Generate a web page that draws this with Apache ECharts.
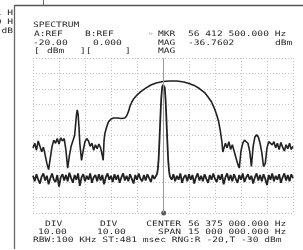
<!DOCTYPE html>
<html><head><meta charset="utf-8">
<script src="https://cdn.jsdelivr.net/npm/echarts@6/dist/echarts.min.js"></script>
<style>html,body{margin:0;padding:0;background:#fff}#c{width:303px;height:250px}</style>
</head><body><div id="c"></div>
<script>
// Frequency offset from center (MHz), amplitude (dBm)
const centerMHz = 56.375;
const spanMHz = 15;
const refLevel = -20;
const dbPerDiv = 10;

// Trace A: filter response (broad passband)
const traceA = [
 [-7.5,-78],[-7.4,-75],[-7.3,-79.5],[-7.2,-73.5],[-7.1,-77],[-7.0,-80.5],[-6.9,-77.5],[-6.8,-82.5],[-6.7,-88],[-6.6,-92],
 [-6.5,-84.5],[-6.4,-77],[-6.3,-73],[-6.2,-75],[-6.1,-72],[-6.0,-75.5],[-5.9,-71.5],[-5.8,-73.5],[-5.7,-72],[-5.6,-79.5],
 [-5.5,-91],[-5.4,-83],[-5.3,-77],[-5.2,-73.5],[-5.1,-70],[-5.05,-64],[-5.0,-57.5],[-4.95,-53.5],[-4.9,-56],[-4.85,-64],
 [-4.8,-75],[-4.7,-86],[-4.6,-79.5],[-4.5,-74],[-4.4,-72],[-4.3,-73.5],[-4.2,-77],[-4.1,-75],[-4.0,-79.5],[-3.9,-76],
 [-3.8,-78.5],[-3.7,-75.5],[-3.6,-78],[-3.5,-83],[-3.45,-86],[-3.4,-73],[-3.35,-68.5],[-3.25,-64.5],[-3.15,-61.3],[-3.0,-59.4],
 [-2.85,-58.7],[-2.6,-58.7],[-2.4,-59],[-2.2,-58.7],[-2.1,-57.4],[-2.0,-54.8],[-1.9,-51],[-1.8,-48.4],[-1.7,-46.5],[-1.5,-43.9],
 [-1.3,-41.9],[-1.0,-39.4],[-0.7,-37.4],[-0.4,-36.1],[0,-35.2],[0.4,-34.8],[0.8,-34.8],[1.2,-35.5],[1.5,-36.5],[1.8,-37.7],
 [2.1,-39.7],[2.4,-42.3],[2.6,-45.2],[2.8,-48.4],[3.0,-53.5],[3.1,-56.8],[3.2,-60.6],[3.3,-66.5],[3.4,-74.2],[3.45,-80.6],
 [3.5,-80],[3.6,-75],[3.7,-78],[3.8,-74],[3.9,-79],[4.0,-76],[4.1,-80],[4.2,-84],[4.3,-88],[4.4,-91],
 [4.5,-80],[4.6,-75],[4.7,-73],[4.8,-72],[4.9,-75],[5.0,-80],[5.1,-90],[5.2,-77],[5.3,-71],[5.4,-69.5],
 [5.5,-71],[5.6,-75],[5.7,-81],[5.8,-90],[5.9,-88],[6.0,-78],[6.1,-74],[6.2,-73],[6.3,-76],[6.4,-74],
 [6.5,-78],[6.6,-75],[6.7,-79],[6.8,-74.5],[6.9,-77.5],[7.0,-80],[7.1,-76],[7.2,-78.5],[7.3,-75],[7.4,-79],[7.5,-77]
];

// Trace B: single carrier with noise floor
const traceB = [
 [-7.5,-96],[-7.4,-99.5],[-7.3,-95],[-7.2,-98.5],[-7.1,-101],[-7.0,-96.5],[-6.9,-94.5],[-6.8,-99],[-6.7,-96],[-6.6,-101.5],
 [-6.5,-97.5],[-6.4,-94.5],[-6.3,-98.5],[-6.2,-100],[-6.1,-95.5],[-6.0,-103],[-5.9,-97],[-5.8,-95],[-5.7,-99],[-5.6,-95.5],
 [-5.5,-99.5],[-5.4,-94],[-5.3,-97.5],[-5.2,-100.5],[-5.1,-95.5],[-5.0,-98.5],[-4.9,-94.5],[-4.8,-102.5],[-4.7,-97],[-4.6,-95],
 [-4.5,-99.5],[-4.4,-96],[-4.3,-98.5],[-4.2,-94.5],[-4.1,-100.5],[-4.0,-97],[-3.9,-95.5],[-3.8,-99.5],[-3.7,-95],[-3.6,-99],
 [-3.5,-95.5],[-3.4,-101.5],[-3.3,-97],[-3.2,-94.5],[-3.1,-98.5],[-3.0,-96],[-2.9,-100],[-2.8,-95],[-2.7,-98.5],[-2.6,-95.5],
 [-2.5,-100.5],[-2.4,-97],[-2.3,-94.5],[-2.2,-99],[-2.1,-96],[-2.0,-99.5],[-1.9,-95],[-1.8,-98],[-1.7,-101],[-1.6,-95.5],
 [-1.5,-98.5],[-1.4,-94.5],[-1.3,-98],[-1.2,-99.5],[-1.1,-95.5],[-1.0,-99],[-0.9,-95],[-0.8,-97.5],[-0.7,-100],[-0.6,-95.5],
 [-0.5,-98],[-0.4,-97],[-0.35,-95],[-0.3,-92],[-0.25,-85],[-0.2,-72],[-0.15,-58],[-0.1,-46],[-0.05,-39],[0,-37.2],
 [0.04,-36.8],[0.1,-39],[0.15,-47],[0.2,-60],[0.25,-74],[0.3,-86],[0.35,-93],[0.4,-96.5],
 [0.5,-98.5],[0.6,-95],[0.7,-99.5],[0.8,-96],[0.9,-98.5],[1.0,-94.5],[1.1,-100.5],[1.2,-97],[1.3,-95.5],[1.4,-99.5],
 [1.5,-95],[1.6,-98.5],[1.7,-95.5],[1.8,-101],[1.9,-97],[2.0,-94.5],[2.1,-99],[2.2,-96],[2.3,-99.5],[2.4,-95],
 [2.5,-98],[2.6,-100.5],[2.7,-95.5],[2.8,-98.5],[2.9,-94.5],[3.0,-98],[3.1,-100],[3.2,-95.5],[3.3,-98.5],[3.4,-95],
 [3.5,-101.5],[3.6,-97],[3.7,-94.5],[3.8,-99],[3.9,-95.5],[4.0,-99.5],[4.1,-95],[4.2,-98],[4.3,-100.5],[4.4,-95.5],
 [4.5,-98.5],[4.6,-94.5],[4.7,-100],[4.8,-97],[4.9,-95],[5.0,-98.5],[5.1,-96],[5.2,-101],[5.3,-97],[5.4,-94.5],
 [5.5,-99],[5.6,-95.5],[5.7,-99.5],[5.8,-95],[5.9,-98],[6.0,-102],[6.1,-95.5],[6.2,-98.5],[6.3,-94.5],[6.4,-99.5],
 [6.5,-96],[6.6,-98.5],[6.7,-95],[6.8,-100.5],[6.9,-97],[7.0,-94.5],[7.1,-99],[7.2,-95.5],[7.3,-99.5],[7.4,-95],[7.5,-97.5]
];

const markerMHz = [0.04];

const headerTexts = ["SPECTRUM","A:REF","B:REF","\u25e6","MKR","56 412 500.000 Hz","-20.00","0.000","MAG","-36.7602","dBm","[","dBm","][","]","MAG"];
const footerTexts = ["DIV","DIV","CENTER","56 375 000.000 Hz","10.00","10.00","SPAN","15 000 000.000 Hz","RBW:100 KHz ST:481 msec RNG:R -20,T -30 dBm"];
const cornerTexts = ["1 H","0 H","dB"];

// layout: [x, centerY, align]
const headerPos = [[33,25],[34,34.5],[85,34.5],[148,34.5],[158,34.5],[188,34.5],[33,43],[93,43],[158,43],[188,43],[275,43],[34,51],[47,51],[80,51],[125,51],[158,51]];
const footerPos = [[45,224],[100,224],[181,224,'right'],[188,224],[38,232],[97,232],[181,232,'right'],[188,232],[33,240]];
const cornerPos = [[13,13,'right'],[13,22,'right'],[13,31,'right']];

const xMin = -spanMHz/2, xMax = spanMHz/2;
const yMax = refLevel, yMin = refLevel - 10*dbPerDiv;

function txt(t, p){
  return {type:'text', x:p[0], y:p[1], scaleX:1.28, scaleY:1, silent:true, z:10,
    style:{text:t, x:0, y:0, fill:'#2a2a2a', font:'7.5px "DejaVu Sans Mono", monospace', align:p[2]||'left', verticalAlign:'middle'}};
}
const graphics = [];
headerTexts.forEach((t,i)=>graphics.push(txt(t, headerPos[i])));
footerTexts.forEach((t,i)=>graphics.push(txt(t, footerPos[i])));
cornerTexts.forEach((t,i)=>graphics.push(txt(t, cornerPos[i])));
graphics.push({type:'line', shape:{x1:14.5,y1:5.5,x2:303,y2:5.5}, style:{stroke:'#555',lineWidth:1.6}, silent:true});
graphics.push({type:'line', shape:{x1:14.5,y1:5,x2:14.5,y2:249}, style:{stroke:'#666',lineWidth:1.3}, silent:true});
graphics.push({type:'line', shape:{x1:43.5,y1:0,x2:43.5,y2:5}, style:{stroke:'#666',lineWidth:1}, silent:true});

const chart = echarts.init(document.getElementById('c'), null, {renderer:'canvas'});
chart.setOption({
  animation:false,
  backgroundColor:'#ffffff',
  grid:{left:33, right:10, top:58, bottom:37},
  xAxis:{type:'value', min:xMin, max:xMax, interval:spanMHz/10,
    axisLabel:{show:false}, axisTick:{show:false}, axisLine:{show:false},
    splitLine:{show:true, lineStyle:{type:[1,2], color:'#c4c4c4', width:1}}},
  yAxis:{type:'value', min:yMin, max:yMax, interval:dbPerDiv,
    axisLabel:{show:false}, axisTick:{show:false}, axisLine:{show:false},
    splitLine:{show:true, lineStyle:{type:[1,2], color:'#c4c4c4', width:1}}},
  series:[
    {type:'line', data:traceA, showSymbol:false, lineStyle:{color:'#222', width:1.6}, z:3,
     markLine:{silent:true, symbol:'none', label:{show:false}, lineStyle:{type:'solid', color:'#9a9a9a', width:1}, data:[{xAxis:0}]}},
    {type:'line', data:traceB, showSymbol:false, lineStyle:{color:'#222', width:1.8}, z:3},
    {type:'scatter', data:markerMHz.map(f=>[f, yMin]), symbolSize:5, itemStyle:{color:'#333'}, z:4}
  ],
  graphic:graphics
});
</script></body></html>
